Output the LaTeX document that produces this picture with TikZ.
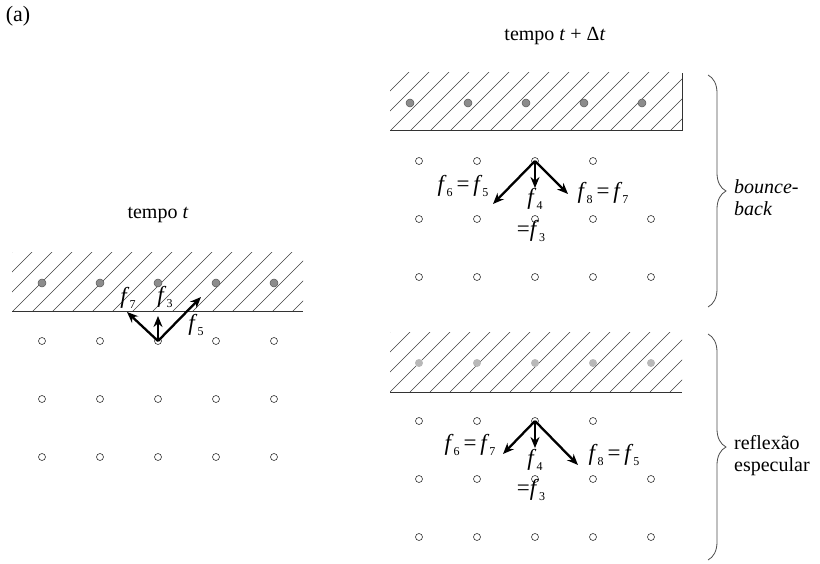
\documentclass[tikz,border=0pt]{standalone}
\usepackage{fontspec}
\setmainfont{Liberation Serif}
\usetikzlibrary{decorations.pathreplacing,arrows.meta}
\newcommand\fsub[2]{\textit{#1}\raisebox{-0.5ex}{\fontsize{12}{12}\selectfont #2}}
\tikzset{
  fluid/.style={circle,draw=black!80,fill=white,line width=0.6pt,minimum size=7pt,inner sep=0pt},
  walldot/.style={circle,draw=black!65,fill=black!45,line width=0.5pt,minimum size=8pt,inner sep=0pt},
  walldotlight/.style={circle,fill=black!28,minimum size=8pt,inner sep=0pt},
  vec/.style={line width=2.3pt,-{Stealth[length=11pt,width=9pt]}},
  hatch/.style={black!75,line width=0.5pt},
  wall/.style={black!80,line width=1pt},
  lbl/.style={font=\rmfamily\fontsize{23}{26}\selectfont,inner sep=0pt},
  txt/.style={font=\rmfamily\fontsize{20}{22}\selectfont,inner sep=0pt},
  bracestyle/.style={black!70,line width=0.8pt,decorate,decoration={brace,amplitude=18pt}}
}
\begin{document}
\begin{tikzpicture}[x=1pt,y=-1pt]
\useasboundingbox (0,0) rectangle (820,564);

% ---------- titles ----------
\node[txt,font=\rmfamily\fontsize{22}{24}\selectfont] (a) at (18,16) {(a)};
\node[txt] (tt) at (158,215) {tempo \textit{t}};
\node[txt] (tdt) at (555,36) {tempo \textit{t} + Δ\textit{t}};

% ---------- left panel ----------
\begin{scope}
  \clip (12,253) rectangle (303,312);
  \foreach \k in {0,...,18} \draw[hatch] ({-48+20*\k},312) -- ++(64,-64);
\end{scope}
\draw[wall] (12,312) -- (303,312);
\foreach \c [count=\i] in {42,100,158,216,274} {
  \node[walldot] (lw\i) at (\c,283) {};
  \foreach \r [count=\j] in {341,399,457}
    \node[fluid] (lf\j\i) at (\c,\r) {};
}
\coordinate (l7) at (127,312);
\coordinate (l3) at (158,316);
\coordinate (l5) at (201,297);
\draw[vec] (lf13.center) -- (l7);
\draw[vec] (lf13.center) -- (l3);
\draw[vec] (lf13.center) -- (l5);
\node[lbl] (lab7) at (128,298) {\fsub{f}{7}};
\node[lbl] (lab3) at (165,297) {\fsub{f}{3}};
\node[lbl] (lab5) at (196,325) {\fsub{f}{5}};

% ---------- upper right panel (bounce-back) ----------
\begin{scope}
  \clip (390,73) rectangle (682,131);
  \foreach \k in {0,...,18} \draw[hatch] ({330+20*\k},131) -- ++(64,-64);
\end{scope}
\draw[wall] (390,131) -- (682,131) -- (682,73);
\foreach \c [count=\i] in {410,468,526,584,642}
  \node[walldot] (uw\i) at (\c,103) {};
\foreach \c [count=\i] in {419,477,535,593}
  \node[fluid] (uf1\i) at (\c,161) {};
\foreach \r [count=\j from 2] in {219,277}
  \foreach \c [count=\i] in {419,477,535,593,651}
    \node[fluid] (uf\j\i) at (\c,\r) {};
\coordinate (u6) at (493,204);
\coordinate (u4) at (535,188);
\coordinate (u8) at (568,194);
\draw[vec] (uf13.center) -- (u6);
\draw[vec] (uf13.center) -- (u4);
\draw[vec] (uf13.center) -- (u8);
\node[lbl] (ul6) at (463,186) {\fsub{f}{6}\,=\,\fsub{f}{5}};
\node[lbl] (ul4) at (535,199) {\fsub{f}{4}};
\node[lbl] (ul8) at (603,193) {\fsub{f}{8}\,=\,\fsub{f}{7}};
\node[lbl] (ul3) at (531,231) {=\fsub{f}{3}};

% ---------- lower right panel (specular) ----------
\begin{scope}
  \clip (390,333) rectangle (682,392);
  \foreach \k in {0,...,18} \draw[hatch] ({330+20*\k},392) -- ++(64,-64);
\end{scope}
\draw[wall] (390,392) -- (682,392);
\foreach \c [count=\i] in {419,477,535,593,651}
  \node[walldotlight] (sw\i) at (\c,363) {};
\foreach \c [count=\i] in {419,477,535,593}
  \node[fluid] (sf1\i) at (\c,421) {};
\foreach \r [count=\j from 2] in {479,537}
  \foreach \c [count=\i] in {419,477,535,593,651}
    \node[fluid] (sf\j\i) at (\c,\r) {};
\coordinate (s6) at (503,454);
\coordinate (s4) at (535,448);
\coordinate (s8) at (578,465);
\draw[vec] (sf13.center) -- (s6);
\draw[vec] (sf13.center) -- (s4);
\draw[vec] (sf13.center) -- (s8);
\node[lbl] (sl6) at (470,445) {\fsub{f}{6}\,=\,\fsub{f}{7}};
\node[lbl] (sl4) at (535,460) {\fsub{f}{4}};
\node[lbl] (sl8) at (614,455) {\fsub{f}{8}\,=\,\fsub{f}{5}};
\node[lbl] (sl3) at (531,490) {=\fsub{f}{3}};

% ---------- braces ----------
\coordinate (b1t) at (708,75);
\coordinate (b1b) at (708,307);
\coordinate (b2t) at (708,334);
\coordinate (b2b) at (708,560);
\draw[bracestyle] (b1t) -- (b1b);
\draw[bracestyle] (b2t) -- (b2b);
\node[txt,anchor=west,align=left] (bb) at (734,198) {\textit{bounce-}\\\textit{back}};
\node[txt,anchor=west,align=left] (re) at (734,456) {reflexão\\especular};
\end{tikzpicture}
\end{document}
